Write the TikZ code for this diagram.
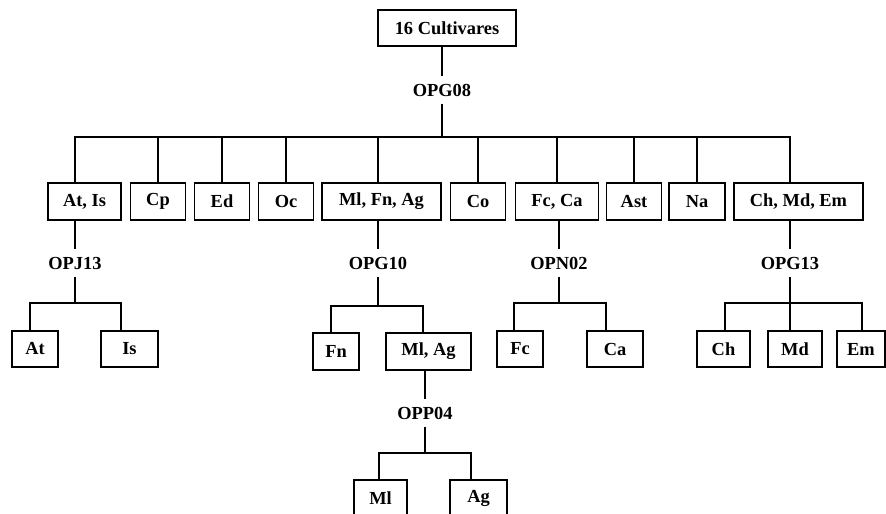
\documentclass[tikz,border=0pt]{standalone}
\usepackage{fontspec}
\setmainfont{Liberation Serif}
\usepackage{tikz}
\tikzset{
  % boxed cultivar group, #1 = width in px
  cv/.style   = {rectangle, draw=black, line width=1.4pt, inner sep=0pt,
                 minimum width={#1*0.75pt}, minimum height=27.5pt,
                 font=\fontsize{13.8}{16}\selectfont\bfseries},
  % primer label sitting on a stem
  prm/.style  = {inner sep=0pt, minimum height=20pt,
                 font=\fontsize{13.8}{16}\selectfont\bfseries},
  ln/.style   = {line width=1.4pt, black},
}

\begin{document}
\begin{tikzpicture}[x=0.75pt,y=-0.75pt]
\clip (0,0) rectangle (886,514);
% root and first primer
\node[cv=138] (root) at (447,28) {16 Cultivares};
\node[prm] (g08) at (442,90) {OPG08};
\coordinate (b0) at (0,137);
% first split
\foreach \n/\x/\w/\t in {atis/84.5/73/{At, Is}, cp/158/55/Cp, ed/222/55/Ed,
                         oc/286/55/Oc, mlfnag/381.5/119/{Ml, Fn, Ag}, co/478/55/Co,
                         fcca/557/83/{Fc, Ca}, ast/634/55/Ast, na/697/56/Na,
                         chmdem/798.5/129/{Ch, Md, Em}}
  {\node[cv=\w] (\n) at (\x,201.5) {\t};}
% second level primers
\node[prm] (j13) at (75,263) {OPJ13};
\node[prm] (g10) at (378,263) {OPG10};
\node[prm] (n02) at (559,263) {OPN02};
\node[prm] (g13) at (790,263) {OPG13};
% leaves
\node[cv=46] (at) at (35,349) {At};
\node[cv=57] (is) at (129.5,349) {Is};
\node[cv=46] (fn) at (336,351.5) {Fn};
\node[cv=85] (mlag) at (428.5,351.5) {Ml, Ag};
\node[cv=46] (fc) at (520,349) {Fc};
\node[cv=56] (ca) at (615,349) {Ca};
\node[cv=53] (ch) at (723.5,349) {Ch};
\node[cv=54] (md) at (795,349) {Md};
\node[cv=48] (em) at (861,349) {Em};
\node[prm] (p04) at (425,413) {OPP04};
\node[cv=53] (ml) at (380.5,498.5) {Ml};
\node[cv=57] (ag) at (478.5,498.5) {Ag};

% stems of the root
\draw[ln] (root.south -| g08) -- (g08);
\draw[ln] (g08) -- (g08 |- b0);
\draw[ln] (atis.north -| j13) |- (g13 |- b0) -- (chmdem.north -| g13);
\draw[ln] (mlfnag.north -| g10) -- (g10 |- b0);
\foreach \n in {cp,ed,oc,co,fcca,ast,na}
  {\draw[ln] (\n |- b0) -- (\n);}
% OPJ13
\coordinate (jA) at (30,303);
\coordinate (jB) at (121,303);
\draw[ln] (atis.south -| j13) -- (j13);
\draw[ln] (j13) -- (j13 |- jA);
\draw[ln] (at.north -| jA) |- (jB) -- (is.north -| jB);
% OPG10
\coordinate (gA) at (331,306);
\coordinate (gB) at (423,306);
\draw[ln] (mlfnag.south -| g10) -- (g10);
\draw[ln] (g10) -- (g10 |- gA);
\draw[ln] (fn.north -| gA) |- (gB) -- (mlag.north -| gB);
% OPP04
\coordinate (pA) at (379,453);
\coordinate (pB) at (471,453);
\draw[ln] (mlag.south -| p04) -- (p04);
\draw[ln] (p04) -- (p04 |- pA);
\draw[ln] (ml.north -| pA) |- (pB) -- (ag.north -| pB);
% OPN02
\coordinate (nA) at (514,303);
\coordinate (nB) at (606,303);
\draw[ln] (fcca.south -| n02) -- (n02);
\draw[ln] (n02) -- (n02 |- nA);
\draw[ln] (fc.north -| nA) |- (nB) -- (ca.north -| nB);
% OPG13
\coordinate (cA) at (725,303);
\coordinate (cB) at (862,303);
\draw[ln] (chmdem.south -| g13) -- (g13);
\draw[ln] (g13) -- (md.north -| g13);
\draw[ln] (ch.north -| cA) |- (cB) -- (em.north -| cB);
\end{tikzpicture}
\end{document}
